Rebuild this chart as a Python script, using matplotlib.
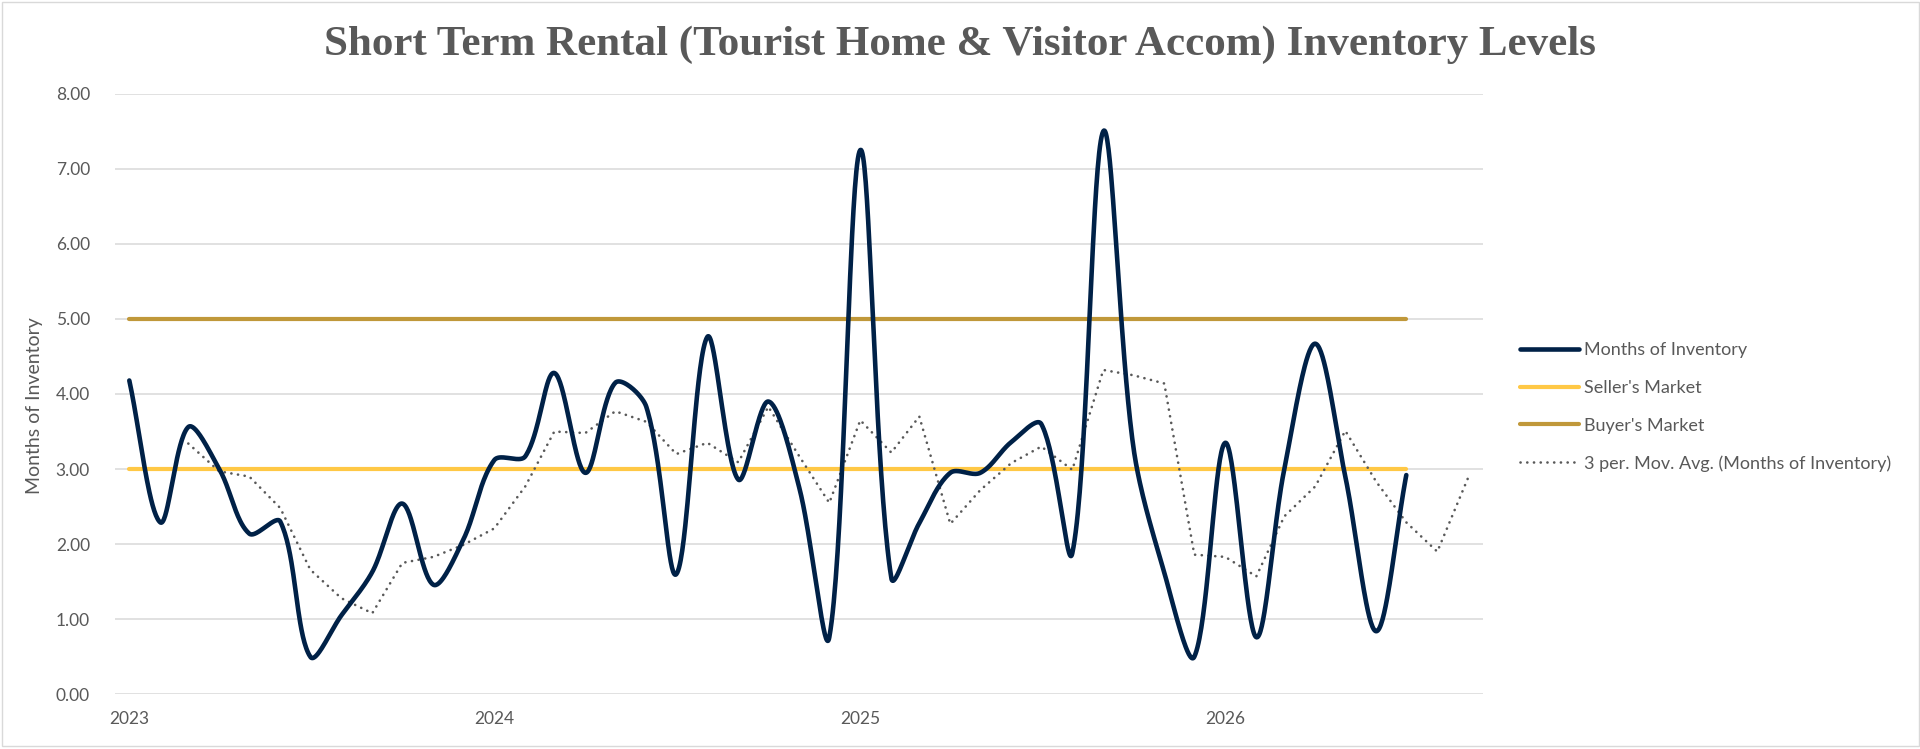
import matplotlib
matplotlib.use('Agg')
import matplotlib.pyplot as plt
import matplotlib.dates as mdates
import numpy as np
import pandas as pd

# ---------------- data ----------------
months = pd.date_range('2023-01-01', periods=43, freq='MS')
inventory = [4.18, 2.29, 3.56, 3.00, 2.14, 2.30, 0.50, 1.05, 1.63, 2.54, 1.46, 2.06,
             3.12, 3.17, 4.28, 2.95, 4.15, 3.83, 1.60, 4.76, 2.86, 3.90, 2.75, 0.76,
             7.25, 1.55, 2.28, 2.95, 2.95, 3.36, 3.60, 1.88, 7.50, 3.30, 1.62, 0.50,
             3.35, 0.76, 3.00, 4.67, 2.90, 0.84, 2.92]
ma_months = pd.date_range('2023-03-01', periods=43, freq='MS')
moving_avg = [3.34, 2.97, 2.90, 2.48, 1.66, 1.28, 1.08, 1.75, 1.83, 1.99,
              2.21, 2.77, 3.50, 3.48, 3.77, 3.63, 3.20, 3.35, 3.09, 3.83, 3.17, 2.55,
              3.65, 3.22, 3.70, 2.27, 2.72, 3.08, 3.30, 2.99, 4.32, 4.25, 4.14, 1.86,
              1.83, 1.57, 2.37, 2.77, 3.51, 2.83, 2.29, 1.90, 2.89]
seller_level = 3.0
buyer_level = 5.0
year_ticks = ['2023', '2024', '2025', '2026']
y_ticks = [0, 1, 2, 3, 4, 5, 6, 7, 8]

title = "Short Term Rental (Tourist Home & Visitor Accom) Inventory Levels"
series_names = ["Months of Inventory", "Seller's Market", "Buyer's Market",
                "3 per. Mov. Avg. (Months of Inventory)"]

NAVY = '#002147'
YELLOW = '#FFC845'
GOLD = '#C0983A'
GREY_TXT = '#595959'
GRID = '#D9D9D9'


def excel_smooth(ax, x, y, n=40):
    """Bezier smoothing through every point, tangents weighted by screen chord length."""
    pts = ax.transData.transform(np.column_stack([np.asarray(x, float), np.asarray(y, float)]))
    P = np.vstack([pts[0], pts, pts[-1]])
    d = np.linalg.norm(np.diff(P, axis=0), axis=1)
    t = np.linspace(0, 1, n)[1:, None]
    out = [P[1][None, :]]
    for i in range(len(pts) - 1):
        p0, p3 = P[i + 1], P[i + 2]
        s1 = d[i] + d[i + 1]
        s2 = d[i + 1] + d[i + 2]
        f1 = d[i + 1] / s1 / 3.0 if s1 > 0 else 0.0
        f2 = d[i + 1] / s2 / 3.0 if s2 > 0 else 0.0
        c1 = p0 + (P[i + 2] - P[i]) * f1
        c2 = p3 - (P[i + 3] - P[i + 1]) * f2
        seg = ((1 - t) ** 3) * p0 + 3 * ((1 - t) ** 2) * t * c1 + 3 * (1 - t) * t ** 2 * c2 + t ** 3 * p3
        out.append(seg)
    out = np.vstack(out)
    back = ax.transData.inverted().transform(out)
    return back[:, 0], back[:, 1]


plt.rcParams['font.family'] = ['Lato', 'DejaVu Sans']

W, H = 1920, 749
fig = plt.figure(figsize=(W / 100, H / 100), dpi=100)
fig.patch.set_facecolor('white')

ax_left, ax_right = 115 / W, 1483 / W
ax_bottom, ax_top = (H - 694.3) / H, (H - 93.7) / H
ax = fig.add_axes([ax_left, ax_bottom, ax_right - ax_left, ax_top - ax_bottom])

x0 = mdates.date2num(pd.Timestamp('2023-01-01'))
ax.set_xlim(x0 - 14.3, x0 + 1353.7)
ax.set_ylim(0, 8)

xm = mdates.date2num(months)
xa = mdates.date2num(ma_months)

sx, sy = excel_smooth(ax, xm, inventory)
l_inv, = ax.plot(sx, sy, color=NAVY, lw=3.3, solid_capstyle='round', solid_joinstyle='round', zorder=5)
l_sel, = ax.plot(xm, [seller_level] * len(xm), color=YELLOW, lw=3.0, solid_capstyle='round', zorder=3)
l_buy, = ax.plot(xm, [buyer_level] * len(xm), color=GOLD, lw=3.0, solid_capstyle='round', zorder=3)
l_ma, = ax.plot(xa, moving_avg, color=GREY_TXT, lw=1.9, linestyle=(0, (0.05, 2.5)),
                dash_capstyle='round', zorder=4)

ax.set_xlim(x0 - 14.3, x0 + 1353.7)
ax.set_ylim(0, 8)

ax.set_yticks(y_ticks)
ax.set_yticklabels([f'{v:.2f}' for v in y_ticks])
ax.set_xticks(mdates.date2num([pd.Timestamp(f'{y}-01-01') for y in year_ticks]))
ax.set_xticklabels(year_ticks)
ax.tick_params(axis='both', length=0, labelsize=12.5, labelcolor=GREY_TXT)
ax.tick_params(axis='y', pad=18)
ax.tick_params(axis='x', pad=12)

ax.yaxis.grid(True, color=GRID, lw=1.1)
ax.set_axisbelow(True)
for s in ax.spines.values():
    s.set_visible(False)

fig.text(35 / W, (H - 406) / H, 'Months of Inventory', rotation=90, ha='center', va='center',
         fontsize=14, color=GREY_TXT)

fig.text(0.5, (H - 55) / H, title, ha='center', va='baseline', fontsize=31,
         fontweight='bold', family=['Liberation Serif', 'DejaVu Serif'], color=GREY_TXT)

leg = ax.legend([l_inv, l_sel, l_buy, l_ma], series_names, loc='center left',
                bbox_to_anchor=(1520 / W, (H - 407) / H), bbox_transform=fig.transFigure,
                frameon=False, fontsize=13, handlelength=3.27, handletextpad=0.25,
                labelspacing=1.2, borderpad=0, borderaxespad=0)
for txt in leg.get_texts():
    txt.set_color(GREY_TXT)

border = plt.Rectangle((1.5 / W, 3.5 / H), (W - 3) / W, (H - 5) / H, transform=fig.transFigure,
                       fill=False, ec=GRID, lw=1.0)
fig.patches.append(border)

fig.savefig('out.png', dpi=100, facecolor='white')
